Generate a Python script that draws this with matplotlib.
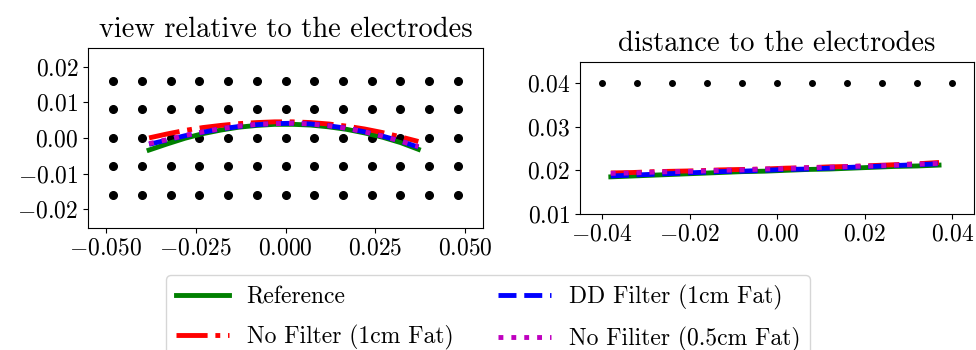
import matplotlib
matplotlib.use("Agg")
import matplotlib.pyplot as plt
import numpy as np

plt.rcParams['font.family'] = 'serif'
plt.rcParams['font.serif'] = ['cmr10']
plt.rcParams['mathtext.fontset'] = 'cm'
plt.rcParams['axes.formatter.use_mathtext'] = True
plt.rcParams['axes.unicode_minus'] = True

# electrode grid
elec_x = [-0.048, -0.040, -0.032, -0.024, -0.016, -0.008, 0.0,
          0.008, 0.016, 0.024, 0.032, 0.040, 0.048]
elec_y = [-0.016, -0.008, 0.0, 0.008, 0.016]
elec_x2 = [-0.040, -0.032, -0.024, -0.016, -0.008, 0.0,
           0.008, 0.016, 0.024, 0.032, 0.040]
elec_d = 0.04

# trajectory positions
pos_x = [-0.038, -0.033, -0.028, -0.023, -0.018, -0.013, -0.008, -0.003,
         0.002, 0.007, 0.012, 0.017, 0.022, 0.027, 0.032, 0.037]
ref_y = [-0.0034, -0.0017, -0.0001, 0.0012, 0.0022, 0.0030, 0.0035, 0.0038,
         0.0038, 0.0036, 0.0031, 0.0024, 0.0014, 0.0002, -0.0013, -0.0032]
nofilt_y = [0.0000, 0.0011, 0.0021, 0.0029, 0.0035, 0.0040, 0.0043, 0.0045,
            0.0045, 0.0043, 0.0039, 0.0033, 0.0025, 0.0015, 0.0003, -0.0010]
dd_y = [-0.0018, -0.0006, 0.0006, 0.0016, 0.0025, 0.0032, 0.0037, 0.0040,
        0.0041, 0.0039, 0.0034, 0.0027, 0.0017, 0.0005, -0.0009, -0.0026]
half_y = [-0.0016, -0.0005, 0.0007, 0.0017, 0.0026, 0.0033, 0.0038, 0.0040,
          0.0041, 0.0039, 0.0034, 0.0027, 0.0017, 0.0005, -0.0009, -0.0024]

# distance to electrodes
ref_d = [0.0185, 0.0187, 0.0189, 0.0191, 0.0193, 0.0195, 0.0197, 0.0198,
         0.0200, 0.0202, 0.0203, 0.0205, 0.0207, 0.0209, 0.0210, 0.0212]
nofilt_d = [0.0194, 0.0195, 0.0197, 0.0198, 0.0199, 0.0201, 0.0202, 0.0203,
            0.0205, 0.0206, 0.0208, 0.0209, 0.0211, 0.0213, 0.0215, 0.0218]
dd_d = [0.0187, 0.0189, 0.0191, 0.0193, 0.0195, 0.0197, 0.0198, 0.0200,
        0.0202, 0.0203, 0.0205, 0.0207, 0.0209, 0.0211, 0.0213, 0.0215]
half_d = [0.0193, 0.0194, 0.0196, 0.0197, 0.0198, 0.0200, 0.0201, 0.0203,
          0.0204, 0.0206, 0.0207, 0.0209, 0.0210, 0.0212, 0.0214, 0.0216]

labels = ['Reference', 'No Filter (1cm Fat)', 'DD Filter (1cm Fat)',
          'No Filiter (0.5cm Fat)']
styles = [('g', '-'), ('r', '-.'), ('b', '--'), ('m', ':')]

fs = 17
fig = plt.figure(figsize=(9.76, 3.5), dpi=100)
ax1 = fig.add_axes([0.0902, 0.349, 0.4047, 0.514])
ax2 = fig.add_axes([0.594, 0.389, 0.404, 0.434])

gx, gy = np.meshgrid(elec_x, elec_y)
ax1.plot(gx.ravel(), gy.ravel(), 'k.', markersize=11)
lines = []
for ys, (c, ls), lab in zip([ref_y, nofilt_y, dd_y, half_y], styles, labels):
    l, = ax1.plot(pos_x, ys, color=c, linestyle=ls, lw=3.5, label=lab)
    lines.append(l)
ax1.set_xlim(-0.055, 0.055)
ax1.set_ylim(-0.0252, 0.0252)
ax1.set_xticks([-0.05, -0.025, 0.0, 0.025, 0.05])
ax1.set_yticks([-0.02, -0.01, 0.0, 0.01, 0.02])
ax1.set_title('view relative to the electrodes', fontsize=20.5, pad=8)

ax2.plot(elec_x2, [elec_d] * len(elec_x2), 'k.', markersize=8)
for ys, (c, ls) in zip([ref_d, nofilt_d, dd_d, half_d], styles):
    ax2.plot(pos_x, ys, color=c, linestyle=ls, lw=3.5)
ax2.set_xlim(-0.0451, 0.045)
ax2.set_ylim(0.01, 0.0449)
ax2.set_xticks([-0.04, -0.02, 0.0, 0.02, 0.04])
ax2.set_yticks([0.01, 0.02, 0.03, 0.04])
ax2.set_title('distance to the electrodes', fontsize=20.5, pad=8)

for ax in (ax1, ax2):
    ax.tick_params(labelsize=fs)

fig.legend(handles=lines, loc='upper center', bbox_to_anchor=(0.5, 0.213),
           borderaxespad=0, ncol=2, fontsize=fs, handlelength=2.25,
           handletextpad=0.75, columnspacing=1.9, labelspacing=0.7)

fig.savefig('out.png', dpi=100)
